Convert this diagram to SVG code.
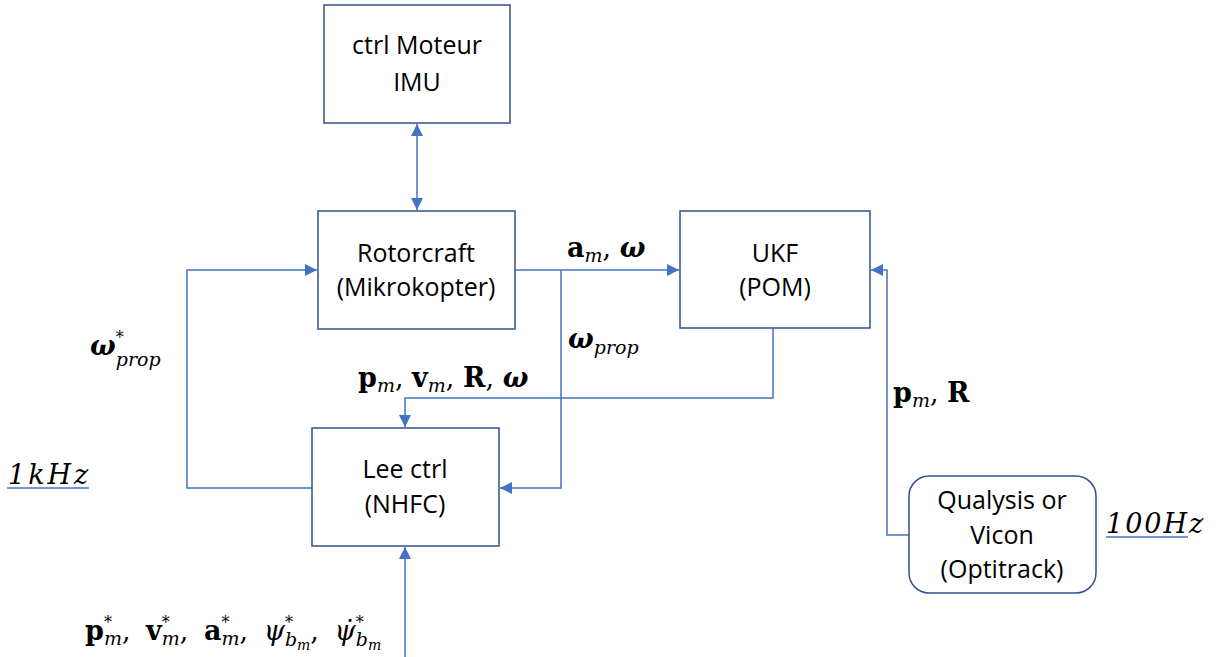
<svg xmlns="http://www.w3.org/2000/svg" width="1224" height="657" viewBox="0 0 1224 657">
<style>
.box{fill:#fff;stroke:#2F528F;stroke-width:1.5}
.t{font-family:"Open Sans","Liberation Sans",sans-serif;font-size:25px;fill:#000;text-anchor:middle}
.c{fill:none;stroke:#4472C4;stroke-width:1.5}
.m{font-family:"DejaVu Serif","Liberation Serif",serif;font-size:27px;fill:#000}
.b{font-weight:bold}
.i{font-style:italic}
.bi{font-weight:bold;font-style:italic}
.s{font-size:19px;font-style:italic;font-weight:normal}
.st{font-size:16px;font-style:normal;font-weight:normal}
.ss{font-size:14px;font-style:italic;font-weight:normal}
.u{stroke:#4472C4;stroke-width:1.5}
</style>
<defs>
<marker id="ah" viewBox="0 0 12 12" refX="12" refY="6" markerWidth="12" markerHeight="12" markerUnits="userSpaceOnUse" orient="auto-start-reverse">
<path d="M0,0 L12,6 L0,12 z" fill="#4472C4"/>
</marker>
</defs>
<g id="connectors">
<line class="c" x1="417" y1="124" x2="417" y2="210" marker-start="url(#ah)" marker-end="url(#ah)"/>
<line class="c" x1="515" y1="270" x2="679" y2="270" marker-end="url(#ah)"/>
<polyline class="c" points="561,270 561,488 500,488" marker-end="url(#ah)"/>
<polyline class="c" points="773,328 773,398 405,398 405,427" marker-end="url(#ah)"/>
<polyline class="c" points="312,488 187,488 187,270 317,270" marker-end="url(#ah)"/>
<polyline class="c" points="909,535 887,535 887,270 871,270" marker-end="url(#ah)"/>
<line class="c" x1="405" y1="657" x2="405" y2="547" marker-end="url(#ah)"/>
</g>
<g id="n-ctrl"><rect class="box" x="324" y="5" width="186" height="118"/><text class="t" x="417" y="54">ctrl Moteur</text><text class="t" x="417" y="91">IMU</text></g>
<g id="n-rotor"><rect class="box" x="318" y="211" width="197" height="118"/><text class="t" x="416" y="262">Rotorcraft</text><text class="t" x="416" y="296">(Mikrokopter)</text></g>
<g id="n-ukf"><rect class="box" x="680" y="211" width="190" height="117"/><text class="t" x="775" y="262">UKF</text><text class="t" x="775" y="296">(POM)</text></g>
<g id="n-lee"><rect class="box" x="312" y="428" width="187" height="118"/><text class="t" x="405" y="478">Lee ctrl</text><text class="t" x="405" y="513">(NHFC)</text></g>
<g id="n-mocap"><rect class="box" x="909" y="476" width="187" height="117" rx="20"/><text class="t" x="1002" y="509">Qualysis or</text><text class="t" x="1002" y="544">Vicon</text><text class="t" x="1002" y="578">(Optitrack)</text></g>
<g id="labels">
<text class="m" x="567" y="257"><tspan class="b">a</tspan><tspan class="s" dy="5">m</tspan><tspan dy="-5">, </tspan><tspan class="bi">ω</tspan></text>
<text class="m" x="568" y="348"><tspan class="bi">ω</tspan><tspan class="s" dy="6">prop</tspan></text>
<text class="m" x="358" y="387"><tspan class="b">p</tspan><tspan class="s" dy="5">m</tspan><tspan dy="-5">, </tspan><tspan class="b">v</tspan><tspan class="s" dy="5">m</tspan><tspan dy="-5">, </tspan><tspan class="b">R</tspan><tspan>, </tspan><tspan class="bi">ω</tspan></text>
<text class="m" x="90" y="355"><tspan class="bi">ω</tspan><tspan class="st" dy="-12">*</tspan><tspan class="s" dx="-8" dy="23">prop</tspan></text>
<text class="m" x="893" y="402"><tspan class="b">p</tspan><tspan class="s" dy="5">m</tspan><tspan dy="-5">, </tspan><tspan class="b">R</tspan></text>
<text class="m" x="85" y="640" font-size="28"><tspan class="b">p</tspan><tspan class="st" dy="-12">*</tspan><tspan class="s" dx="-8" dy="17">m</tspan><tspan dy="-5">, </tspan><tspan class="b" dx="7">v</tspan><tspan class="st" dy="-12">*</tspan><tspan class="s" dx="-8" dy="17">m</tspan><tspan dy="-5">, </tspan><tspan class="b" dx="7">a</tspan><tspan class="st" dy="-12">*</tspan><tspan class="s" dx="-8" dy="17">m</tspan><tspan dy="-5">, </tspan><tspan class="i" dx="7">ψ</tspan><tspan class="st" dy="-12">*</tspan><tspan class="s" dx="-8" dy="18">b</tspan><tspan class="ss" dy="4">m</tspan><tspan dy="-10">, </tspan><tspan class="i" dx="7">ψ̇</tspan><tspan class="st" dy="-12">*</tspan><tspan class="s" dx="-8" dy="18">b</tspan><tspan class="ss" dy="4">m</tspan></text>
<text class="m i" x="8" y="484" font-size="25" letter-spacing="3">1kHz</text>
<line class="u" x1="7" y1="488" x2="89" y2="488"/>
<text class="m i" x="1106" y="533" font-size="25" letter-spacing="2">100Hz</text>
<line class="u" x1="1106" y1="537" x2="1188" y2="537"/>
</g>
</svg>
